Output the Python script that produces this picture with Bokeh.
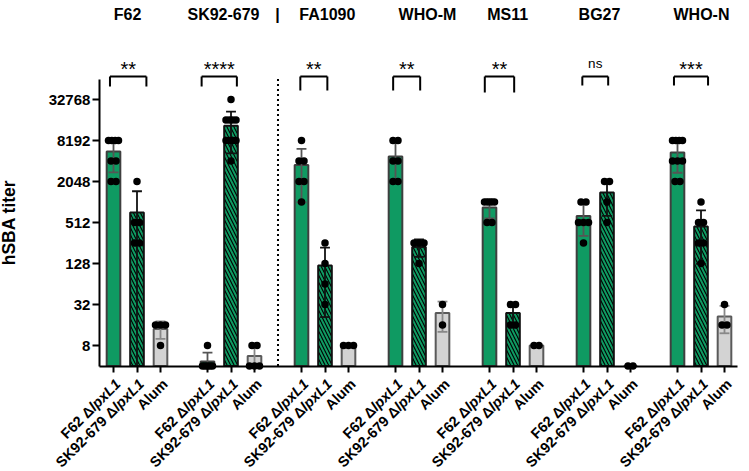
import math
import numpy as np
from bokeh.plotting import figure
from bokeh.models import Range1d, FixedTicker, ColumnDataSource
from bokeh.embed import file_html
from bokeh.resources import INLINE
from bokeh.core.properties import value

# ---- data -------------------------------------------------------------
strains = ["F62", "SK92-679", "FA1090", "WHO-M", "MS11", "BG27", "WHO-N"]
vaccine_prefix = ["F62 Δ", "SK92-679 Δ", "Alum"]
vaccine_gene = ["lpxL1", "lpxL1", ""]
significance = ["**", "****", "**", "**", "**", "ns", "***"]

# individual hSBA titers per mouse, one list per test strain
titers_f62_omv = [
    [8192, 8192, 8192, 8192, 4096, 4096, 2048, 2048],
    [8, 4, 4, 4, 4, 4],
    [8192, 4096, 4096, 2048, 2048, 1024],
    [8192, 8192, 4096, 4096, 2048, 2048],
    [1024, 1024, 1024, 1024, 512, 512],
    [1024, 1024, 512, 512, 512, 256],
    [8192, 8192, 8192, 8192, 4096, 4096, 4096, 2048, 2048],
]
titers_sk_omv = [
    [2048, 512, 512, 256, 256],
    [32768, 16384, 16384, 16384, 16384, 8192, 8192, 8192, 8192, 4096],
    [256, 128, 64, 32],
    [256, 256, 256, 128],
    [32, 32, 16, 16],
    [2048, 2048, 1024, 512],
    [1024, 512, 512, 256, 256, 128],
]
titers_alum = [
    [16, 16, 16, 8],
    [8, 8, 4, 4, 4],
    [8, 8, 8],
    [32, 16],
    [8, 8],
    [4, 4],
    [32, 16, 16],
]
y_ticks = [8, 32, 128, 512, 2048, 8192, 32768]

# ---- geometry & styling -----------------------------------------------
FONT = "Liberation Sans"
GREEN = "#0f9a62"
W, H = 749, 471
X0_PX, UNIT_PX = 113.0, 23.5      # screen position of x=0, px per x unit
Y8_PX, OCT_PX = 345.0, 20.5       # screen position of titer 8, px per doubling
Y_MIN = 4
AXIS_TOP = 65536
X_LEFT, X_RIGHT = -0.6, 26.55


def log2_at(py):
    """log2 titer that sits at screen row py."""
    return 3 + (Y8_PX - py) / OCT_PX


p = figure(width=W, height=H, output_backend="svg", toolbar_location=None,
           title=None, y_axis_type="log",
           x_range=Range1d(-X0_PX / UNIT_PX, (W - X0_PX) / UNIT_PX),
           y_range=Range1d(2 ** log2_at(H), 2 ** log2_at(0)),
           min_border=0, min_border_left=0, min_border_right=0,
           min_border_top=0, min_border_bottom=0)
p.outline_line_color = None
p.xgrid.visible = False
p.ygrid.visible = False
p.background_fill_color = "white"
p.border_fill_color = "white"

groups = [titers_f62_omv, titers_sk_omv, titers_alum]
fills = [GREEN, GREEN, "#d3d3d3"]
outlines = ["#3f3f3f", "#111111", "#5a5a5a"]
err_colors = ["#555555", "#111111", "#888888"]

for vi, series in enumerate(groups):
    xs, tops = [], []
    for gi, vals in enumerate(series):
        xs.append(4 * gi + vi)
        tops.append(float(np.mean(vals)))
    src = ColumnDataSource(dict(x=xs, top=tops))
    kw = dict(x="x", top="top", bottom=Y_MIN, width=0.58, source=src,
              fill_color=fills[vi], line_color=outlines[vi], line_width=2)
    if vi == 1:
        kw.update(hatch_pattern="\\", hatch_color="black", hatch_weight=1.1,
                  hatch_scale=7)
    p.vbar(**kw)

# error bars (mean + SD) and individual points
for vi, series in enumerate(groups):
    sx0, sy0, sx1, sy1 = [], [], [], []
    cx0, cx1, cy = [], [], []
    dx, dy = [], []
    for gi, vals in enumerate(series):
        x = 4 * gi + vi
        m = float(np.mean(vals))
        sd = float(np.std(vals, ddof=1)) if len(vals) > 1 else 0.0
        if sd > 0:
            hi, lo = m + sd, m - sd
            sx0.append(x); sx1.append(x)
            sy0.append(max(lo, Y_MIN)); sy1.append(hi)
            cap = 0.21
            cx0.append(x - cap); cx1.append(x + cap); cy.append(hi)
            if lo > Y_MIN:
                cx0.append(x - cap); cx1.append(x + cap); cy.append(lo)
        # spread equal values sideways
        for u in sorted(set(vals), reverse=True):
            k = vals.count(u)
            step = 5.0 if k <= 3 else 10.0 / (k - 1)
            for i in range(k):
                dx.append(x + (i - (k - 1) / 2) * step / UNIT_PX)
                dy.append(u)
    p.segment(x0=sx0, y0=sy0, x1=sx1, y1=sy1, line_color=err_colors[vi], line_width=1.8)
    p.segment(x0=cx0, y0=cy, x1=cx1, y1=cy, line_color=err_colors[vi], line_width=1.8)
    p.scatter(x=dx, y=dy, size=7.5, marker="circle", fill_color="black", line_color=None)

# dotted separator
p.segment(x0=[7], y0=[Y_MIN], x1=[7], y1=[AXIS_TOP], line_color="black",
          line_width=2, line_dash="2 3")

# significance brackets
br_x0 = [-0.15, 3.75, 7.95, 11.9, 15.8, 19.95, 23.85]
br_x1 = [1.4, 5.25, 9.1, 13.05, 17.05, 21.05, 25.3]
br_leg = [15.63, 15.63, 15.44, 15.44, 15.34, 15.68, 15.68]
br_top = 16.12
bx0, by0, bx1, by1 = [], [], [], []
for a, b, leg in zip(br_x0, br_x1, br_leg):
    bx0 += [a, a, b]; bx1 += [b, a, b]
    by0 += [2 ** br_top, 2 ** br_top, 2 ** br_top]
    by1 += [2 ** br_top, 2 ** leg, 2 ** leg]
p.segment(x0=bx0, y0=by0, x1=bx1, y1=by1, line_color="black", line_width=2)

stars = [s for s in significance if s != "ns"]
star_x = [(a + b) / 2 for a, b, s in zip(br_x0, br_x1, significance) if s != "ns"]
p.text(x=star_x, y=[2 ** 16.5] * len(stars), text=stars, text_font=value(FONT),
       text_font_size="20px", text_align="center", text_baseline="alphabetic",
       text_color="black")
ns_x = [(a + b) / 2 for a, b, s in zip(br_x0, br_x1, significance) if s == "ns"]
p.text(x=ns_x, y=[2 ** 16.75] * len(ns_x), text=["ns"] * len(ns_x),
       text_font=value(FONT), text_font_size="13.5px", text_align="center",
       text_baseline="alphabetic", text_color="black")

# strain headers
header_shift = [-0.4, -0.32, 0.1, 0.36, -0.23, -0.32, 0.02]
head_src = ColumnDataSource(dict(
    x=[4 * i + 1 + s for i, s in enumerate(header_shift)] + [6.98],
    y=[2 ** 19.14] * (len(strains) + 1),
    t=strains + ["|"]))
p.text(x="x", y="y", text="t", source=head_src, text_font=value(FONT),
       text_font_size="16px", text_font_style="bold", text_align="center",
       text_baseline="alphabetic", text_color="black")

# axes, pinned to the data area's lower left corner
p.yaxis.fixed_location = X_LEFT
p.yaxis.ticker = FixedTicker(ticks=y_ticks, minor_ticks=[])
p.yaxis.major_label_overrides = {t: str(t) for t in y_ticks}
p.yaxis.bounds = (Y_MIN, AXIS_TOP)
p.yaxis.axis_line_width = 2
p.yaxis.major_tick_line_width = 2
p.yaxis.major_tick_out = 7
p.yaxis.major_tick_in = 0
p.yaxis.major_label_standoff = 2
p.yaxis.major_label_text_font = FONT
p.yaxis.major_label_text_font_style = "bold"
p.yaxis.major_label_text_font_size = "15px"
p.yaxis.major_label_text_color = "black"

bar_x = [4 * g + v for g in range(len(strains)) for v in range(3)]
p.xaxis.fixed_location = Y_MIN
p.xaxis.ticker = FixedTicker(ticks=bar_x, minor_ticks=[])
p.xaxis.major_label_overrides = {x: "" for x in bar_x}
p.xaxis.bounds = (X_LEFT, X_RIGHT)
p.xaxis.axis_line_width = 2
p.xaxis.major_tick_line_width = 2
p.xaxis.major_tick_out = 6
p.xaxis.major_tick_in = 0

# y axis title
p.text(x=[(8 - X0_PX) / UNIT_PX], y=[512], text=["hSBA titer"], angle=math.pi / 2,
       text_font=value(FONT), text_font_style="bold", text_font_size="17.5px",
       text_align="center", text_baseline="alphabetic", text_color="black")

# rotated bar labels; the gene name is set in italics
LBL_SIZE = 14.5
ang = math.pi / 4
gene_w = 2.612 * LBL_SIZE
end_dx_px, end_py = 4.5, 381.0
gx, gy, gt = [], [], []
px_, py_, pt_ = [], [], []
for x in bar_x:
    v = x % 4
    ex = x + end_dx_px / UNIT_PX
    ey = log2_at(end_py)
    if vaccine_gene[v]:
        gx.append(ex); gy.append(2 ** ey); gt.append(vaccine_gene[v])
        ex -= gene_w * math.cos(ang) / UNIT_PX
        ey -= gene_w * math.sin(ang) / OCT_PX
    px_.append(ex); py_.append(2 ** ey); pt_.append(vaccine_prefix[v])
p.text(x=gx, y=gy, text=gt, angle=ang, text_font=value(FONT),
       text_font_style="bold italic", text_font_size=f"{LBL_SIZE}px",
       text_align="right", text_baseline="middle", text_color="black")
p.text(x=px_, y=py_, text=pt_, angle=ang, text_font=value(FONT),
       text_font_style="bold", text_font_size=f"{LBL_SIZE}px",
       text_align="right", text_baseline="middle", text_color="black")

open("out.html", "w").write(file_html(p, INLINE))
